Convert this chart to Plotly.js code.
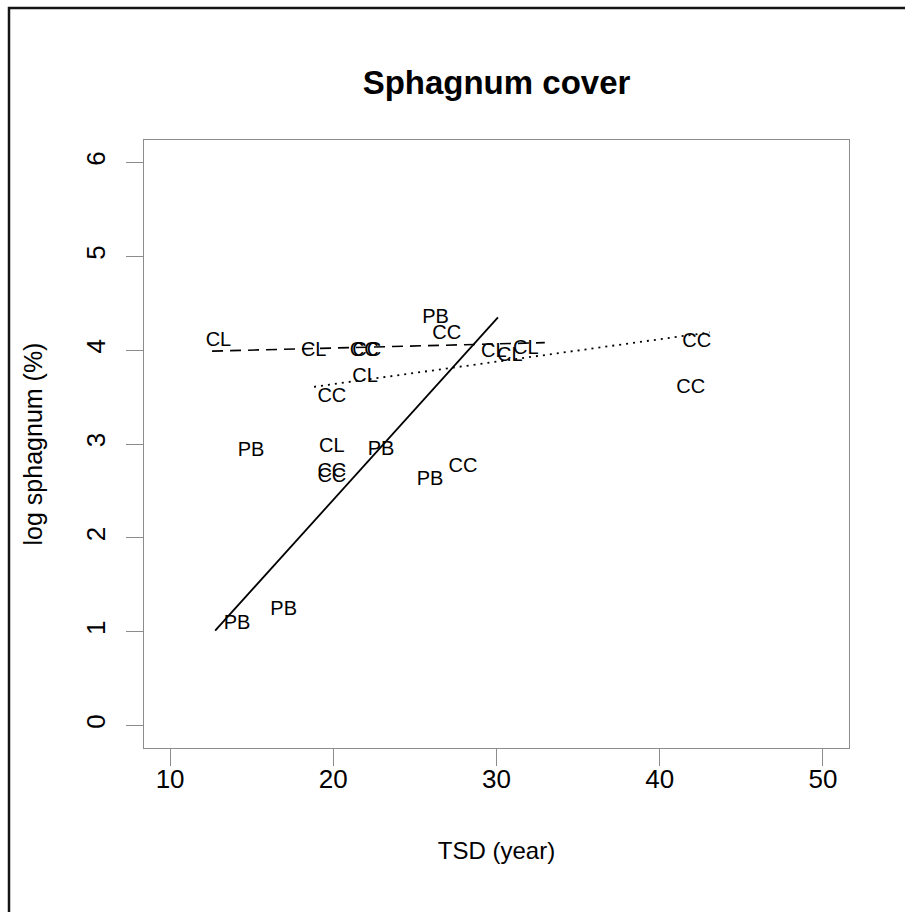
<!DOCTYPE html>
<html>
<head>
<meta charset="utf-8">
<script src="https://cdn.plot.ly/plotly-3.0.1.min.js"></script>
<style>
  html, body { margin: 0; padding: 0; background: #ffffff; overflow: hidden; }
  #chart { width: 905px; height: 912px; }
</style>
</head>
<body>
<div id="chart"></div>
<script>
// Site codes plotted as text at (time since disturbance, log Sphagnum cover)
const pbX = [26.27, 14.96, 22.93, 25.93, 16.96, 14.10];
const pbY = [4.34, 2.93, 2.94, 2.62, 1.23, 1.08];
const pbLabel = ["PB", "PB", "PB", "PB", "PB", "PB"];

const clX = [12.96, 18.80, 21.95, 19.91, 29.84, 30.82, 31.80];
const clY = [4.10, 3.99, 3.71, 2.97, 3.98, 3.94, 4.01];
const clLabel = ["CL", "CL", "CL", "CL", "CL", "CL", "CL"];

const ccX = [21.90, 22.05, 26.95, 19.91, 19.91, 19.91, 27.95, 42.27, 41.90];
const ccY = [3.99, 3.99, 4.17, 3.50, 2.70, 2.65, 2.75, 4.085, 3.60];
const ccLabel = ["CC", "CC", "CC", "CC", "CC", "CC", "CC", "CC", "CC"];

// Fitted lines per group (end points)
const pbFitX = [12.76, 30.09];
const pbFitY = [1.01, 4.35];
const clFitX = [12.57, 32.96];
const clFitY = [3.99, 4.08];
const ccFitX = [18.82, 43.07];
const ccFitY = [3.61, 4.19];

// Axis ticks
const xTicks = [10, 20, 30, 40, 50];
const yTicks = [0, 1, 2, 3, 4, 5, 6];

const FONT = '"Liberation Sans", Arial, Helvetica, sans-serif';
const labelFont = { family: FONT, size: 20, color: '#000000' };

function textTrace(x, y, labels, name) {
  return {
    type: 'scatter', mode: 'text', x: x, y: y, text: labels, name: name,
    textposition: 'middle center', textfont: labelFont,
    hoverinfo: 'x+y+text', showlegend: false, cliponaxis: false
  };
}

function lineTrace(x, y, dash, width, name) {
  return {
    type: 'scatter', mode: 'lines', x: x, y: y, name: name,
    line: { color: '#000000', width: width, dash: dash },
    hoverinfo: 'skip', showlegend: false
  };
}

const data = [
  lineTrace(pbFitX, pbFitY, 'solid', 1.8, 'PB fit'),
  lineTrace(clFitX, clFitY, '11px,7px', 1.6, 'CL fit'),
  lineTrace(ccFitX, ccFitY, '2px,5px', 1.8, 'CC fit'),
  textTrace(pbX, pbY, pbLabel, 'PB'),
  textTrace(clX, clY, clLabel, 'CL'),
  textTrace(ccX, ccY, ccLabel, 'CC')
];

const axisCommon = {
  showgrid: false, zeroline: false,
  showline: true, mirror: true, linecolor: '#8c8c8c', linewidth: 1,
  ticks: 'outside', ticklen: 17, tickwidth: 1, tickcolor: '#8c8c8c',
  tickfont: { family: FONT, size: 26, color: '#000000' },
  tickmode: 'array', automargin: false
};

const layout = {
  width: 905, height: 912,
  margin: { l: 144, r: 56, t: 140, b: 164 },
  paper_bgcolor: '#ffffff', plot_bgcolor: '#ffffff',
  font: { family: FONT, color: '#000000' },
  title: {
    text: '<b>Sphagnum cover</b>',
    font: { family: FONT, size: 33, color: '#000000' },
    x: 0.5, xref: 'paper', xanchor: 'center',
    y: 1 - 82 / 912, yref: 'container', yanchor: 'middle'
  },
  xaxis: Object.assign({}, axisCommon, {
    range: [8.4, 51.6], tickvals: xTicks, ticktext: xTicks.map(String),
    ticklabelstandoff: -9,
    title: { text: 'TSD (year)', font: { family: FONT, size: 24, color: '#000000' }, standoff: 48 }
  }),
  yaxis: Object.assign({}, axisCommon, {
    range: [-0.24, 6.24], tickvals: yTicks, ticktext: yTicks.map(String),
    tickangle: -90, ticklabelstandoff: 11,
    title: { text: 'log sphagnum (%)', font: { family: FONT, size: 25, color: '#000000' }, standoff: 30 }
  }),
  shapes: [{
    type: 'rect', xref: 'paper', yref: 'paper',
    x0: (9 - 144) / 705, x1: (960 - 144) / 705,
    y0: (748 - 960) / 608, y1: (748 - 8) / 608,
    line: { color: '#151515', width: 2.5 }, fillcolor: 'rgba(0,0,0,0)', layer: 'above'
  }]
};

Plotly.newPlot('chart', data, layout, { displayModeBar: false, staticPlot: true });
</script>
</body>
</html>
